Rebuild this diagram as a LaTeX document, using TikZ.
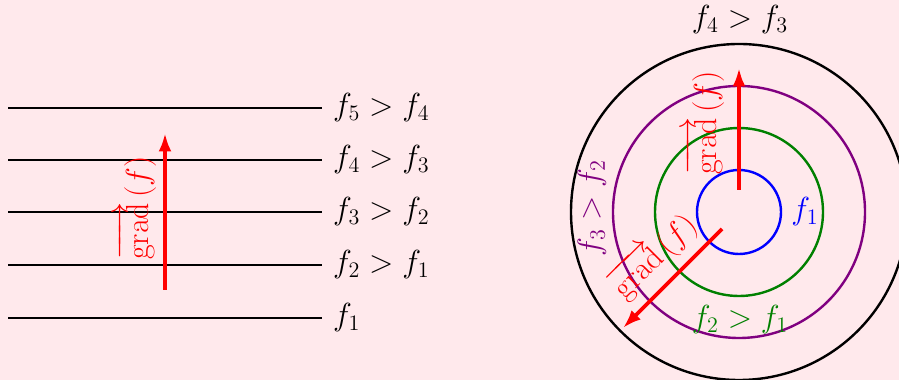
\documentclass[tikz,border=0pt]{standalone}
\usetikzlibrary{arrows.meta}
\definecolor{bgpink}{RGB}{255,233,236}
\definecolor{mygreen}{RGB}{0,128,0}
\definecolor{mypurple}{RGB}{128,0,128}
\begin{document}
\begin{tikzpicture}[x=0.0190476cm,y=-0.0190476cm,
  lab/.style={font=\LARGE,inner sep=1pt},
  glab/.style={font=\fontsize{18.3}{22}\selectfont,inner sep=1pt,red},
  level/.style={line width=0.55pt,black},
  gradarrow/.style={red,line width=2pt,-{Latex[length=10pt,width=7pt]}},
  ring/.style={line width=1.3pt}]
\fill[bgpink] (0,0) rectangle (899,380);
\useasboundingbox (0,0) rectangle (899,380);
% left: level lines
\foreach \y/\t/\n in {108/{f_5 > f_4}/a, 160/{f_4 > f_3}/b, 212/{f_3 > f_2}/c, 265/{f_2 > f_1}/d, 318/{f_1}/e}{
  \coordinate (s\n) at (8,\y);
  \coordinate (t\n) at (322,\y);
  \node[lab,anchor=west] (l\n) at (331,\y) {$\t$};
  \draw[level] (s\n) -- (t\n);
}
\coordinate (g0) at (165,290);
\coordinate (g1) at (165,133);
\draw[gradarrow] (g0) -- (g1);
\node[glab,rotate=90] (gl) at (136,208) {$\overrightarrow{\mathrm{grad}}\,(f)$};
% right: circles
\coordinate (c) at (739,212);
\draw[ring,blue] (c) circle (42);
\draw[ring,mygreen] (c) circle (84);
\draw[ring,mypurple] (c) circle (126);
\draw[ring,black] (c) circle (168);
\node[lab,blue] (b1) at (805,212) {$f_1$};
\node[lab,mygreen] (b2) at (740,320) {$f_2 > f_1$};
\node[lab,mypurple,rotate=90] (b3) at (592,208) {$f_3 > f_2$};
\node[lab,black] (b4) at (740,20) {$f_4 > f_3$};
\coordinate (u0) at (739,190);
\coordinate (u1) at (739,68);
\draw[gradarrow] (u0) -- (u1);
\node[glab,rotate=90] (ul) at (704,123) {$\overrightarrow{\mathrm{grad}}\,(f)$};
\coordinate (d0) at (722,229);
\coordinate (d1) at (623,328);
\draw[gradarrow] (d0) -- (d1);
\node[glab,rotate=45] (dl) at (653,255) {$\overrightarrow{\mathrm{grad}}\,(f)$};
\end{tikzpicture}
\end{document}
